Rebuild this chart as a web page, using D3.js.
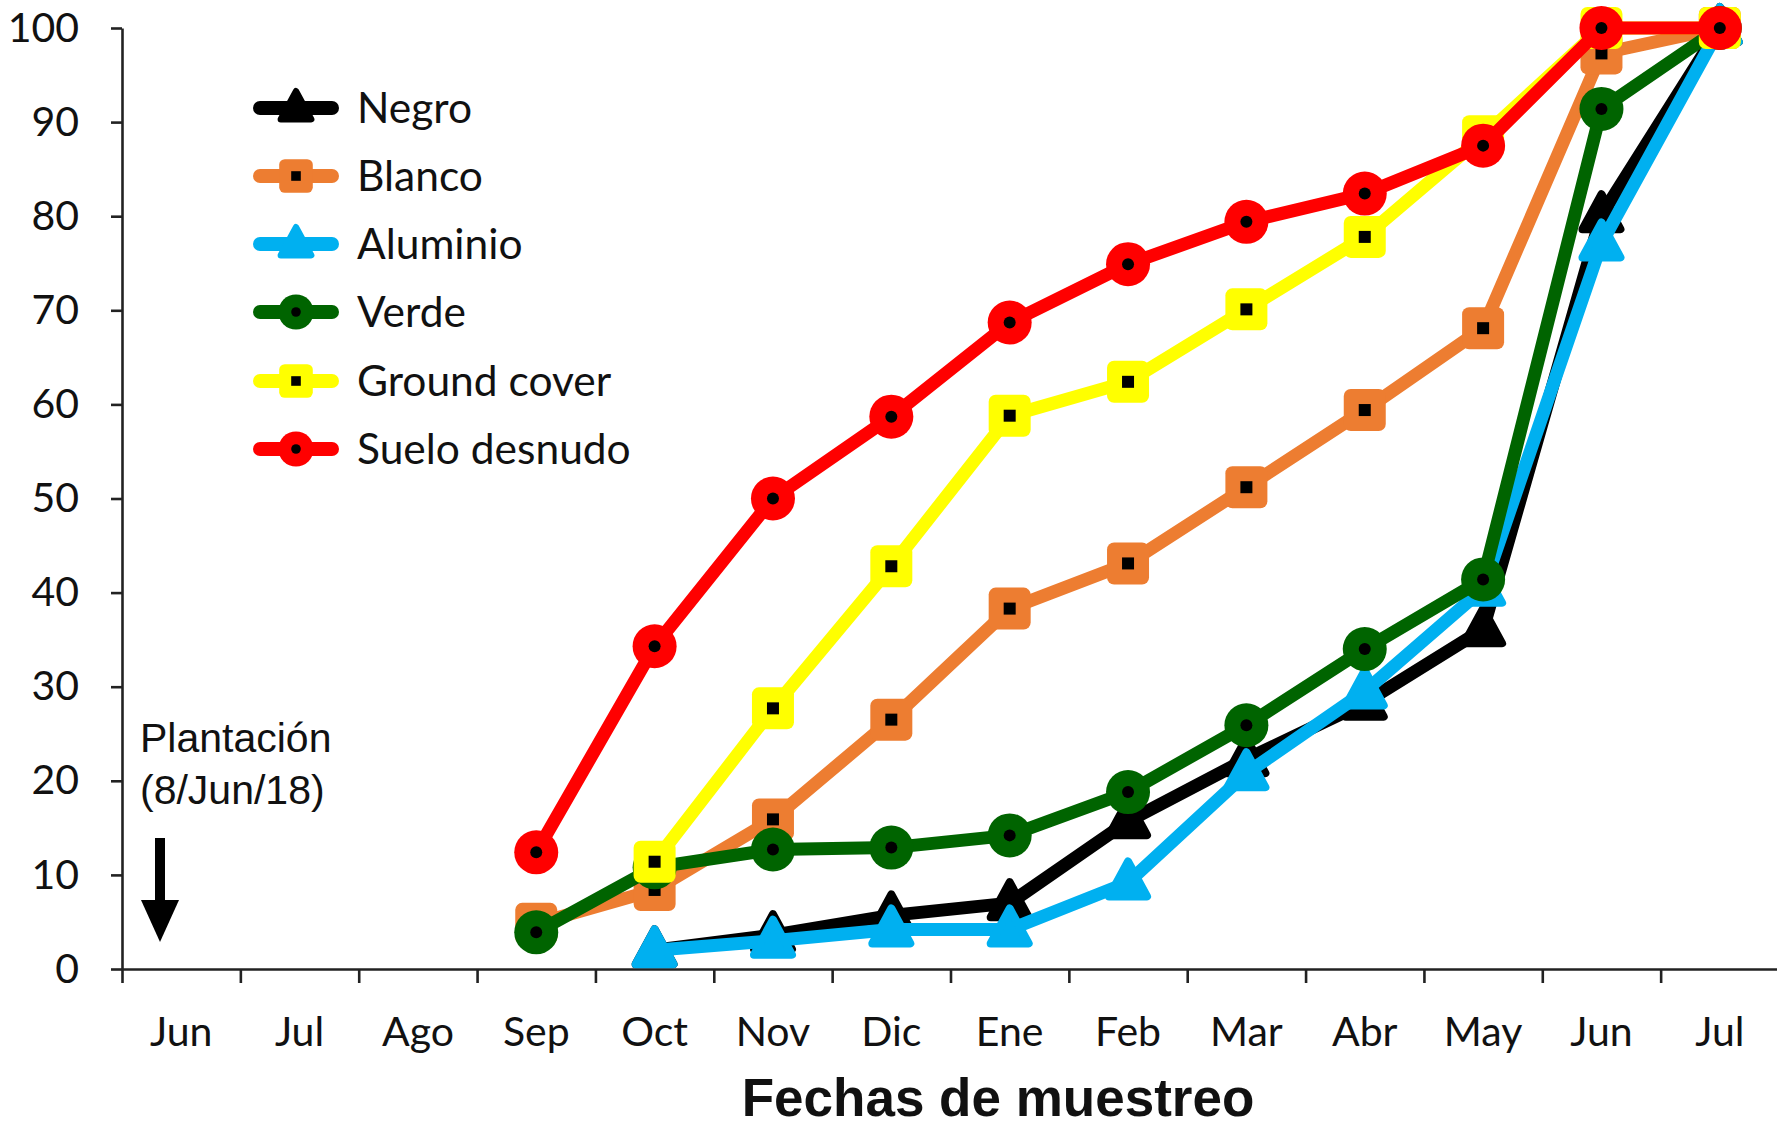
<!DOCTYPE html>
<html><head><meta charset="utf-8">
<script src="https://cdn.jsdelivr.net/npm/d3@7"></script>
<style>body{margin:0;background:#fff}svg{display:block}</style>
</head><body>
<svg id="chart" width="1777" height="1128"></svg>
<script>
// ---- data ----
const months = ["Jun","Jul","Ago","Sep","Oct","Nov","Dic","Ene","Feb","Mar","Abr","May","Jun","Jul"];
const yTicks = [0,10,20,30,40,50,60,70,80,90,100];
const seriesNames = ["Negro","Blanco","Aluminio","Verde","Ground cover","Suelo desnudo"];
const negro        = [null,null,null,null,2.0,3.6,5.7,7.0,15.7,22.3,28.3,36.1,80.1,100];
const blanco       = [null,null,null,4.8,8.4,15.9,26.5,38.3,43.1,51.2,59.4,68.1,97.3,100];
const aluminio     = [null,null,null,null,2.0,3.0,4.2,4.2,9.2,20.8,29.5,40.4,77.1,100];
const verde        = [null,null,null,3.9,10.8,12.7,12.9,14.2,18.8,25.9,34.0,41.4,91.4,100];
const groundCover  = [null,null,null,null,11.4,27.7,42.8,58.8,62.4,70.1,77.8,88.5,100,100];
const sueloDesnudo = [null,null,null,12.4,34.3,50.0,58.7,68.7,74.9,79.4,82.4,87.5,100,100];
const xTitle = "Fechas de muestreo";
const note = ["Plantación","(8/Jun/18)"];

const seriesValues = [negro, blanco, aluminio, verde, groundCover, sueloDesnudo];
const colors  = ["#000000","#ED7D31","#00B0F0","#006400","#FFFF00","#FF0000"];
const markers = ["triangle","square","triangle","circle","square","circle"];

// ---- layout ----
const svg = d3.select("#chart");
const X0 = 122, X1 = 1779, Y0 = 969, Y1 = 28;
const xb = d3.scaleLinear().domain([0, months.length]).range([X0, X1]);
const y = d3.scaleLinear().domain([0,100]).range([Y0, Y1]);
const xc = i => xb(i + 0.5);
const tickFont = "Lato, 'Open Sans', sans-serif";

// axes
const yAxis = svg.append("g").attr("transform",`translate(${X0},0)`)
  .call(d3.axisLeft(y).tickValues(yTicks).tickSize(11).tickSizeOuter(0).tickPadding(32));
yAxis.selectAll("text").style("font-family",tickFont).style("font-size","41px").attr("fill","#111");
const xAxis = svg.append("g").attr("transform",`translate(0,${Y0})`)
  .call(d3.axisBottom(xb).tickValues(d3.range(months.length+1)).tickSize(14).tickSizeOuter(0).tickFormat(""));
[yAxis,xAxis].forEach(g=>{
  g.selectAll("path,line").attr("stroke","#222").attr("stroke-width",2.6);
});
svg.append("g").selectAll("text").data(months).join("text")
  .attr("x",(d,i)=>xc(i)).attr("y",1046).attr("text-anchor","middle")
  .style("font-family",tickFont).style("font-size","41px").attr("fill","#111").text(d=>d);
svg.append("text").attr("x",998).attr("y",1116).attr("text-anchor","middle")
  .style("font-family","'Liberation Sans', Arial, sans-serif").style("font-weight","bold")
  .style("font-size","53px").attr("fill","#111").text(xTitle);

// annotation
svg.append("text").attr("x",140).attr("y",752)
  .style("font-family","'Liberation Sans', Arial, sans-serif").style("font-size","41px").attr("fill","#111")
  .selectAll("tspan").data(note).join("tspan").attr("x",140).attr("dy",(d,i)=>i?52:0).text(d=>d);
svg.append("rect").attr("x",155).attr("y",838).attr("width",10).attr("height",66).attr("fill","#000");
svg.append("path").attr("d","M141,900 L179,900 L160,942 Z").attr("fill","#000");

// marker drawing
function drawMarker(g, type, color, cx, cy, s) {
  if (type === "circle") {
    g.append("circle").attr("cx",cx).attr("cy",cy).attr("r",22*s).attr("fill",color);
    g.append("circle").attr("cx",cx).attr("cy",cy).attr("r",6*s).attr("fill","#000");
  } else if (type === "square") {
    const h = 21*s;
    g.append("rect").attr("x",cx-h).attr("y",cy-h).attr("width",2*h).attr("height",2*h)
      .attr("rx",7*s).attr("fill",color);
    g.append("rect").attr("x",cx-6*s).attr("y",cy-6*s).attr("width",12*s).attr("height",12*s).attr("fill","#000");
  } else {
    const w = 19*s, t = 21*s, b = 14*s;
    g.append("path").attr("d",`M${cx},${cy-t} L${cx+w},${cy+b} L${cx-w},${cy+b} Z`)
      .attr("fill",color).attr("stroke",color).attr("stroke-width",8*s).attr("stroke-linejoin","round");
  }
}

// series
const line = d3.line().defined(d=>d.v!=null).x(d=>xc(d.i)).y(d=>y(d.v));
seriesValues.forEach((vals,k)=>{
  const g = svg.append("g");
  const pts = vals.map((v,i)=>({i,v}));
  g.append("path").attr("d",line(pts)).attr("fill","none").attr("stroke",colors[k])
    .attr("stroke-width",13).attr("stroke-linejoin","round").attr("stroke-linecap","round");
  pts.filter(d=>d.v!=null).forEach(d=>drawMarker(g,markers[k],colors[k],xc(d.i),y(d.v),1));
});

// legend
const legY = [108,176,244,312,381,449];
seriesNames.forEach((name,k)=>{
  const g = svg.append("g");
  g.append("line").attr("x1",260).attr("x2",332).attr("y1",legY[k]).attr("y2",legY[k])
    .attr("stroke",colors[k]).attr("stroke-width",14).attr("stroke-linecap","round");
  drawMarker(g,markers[k],colors[k],296,legY[k],0.8);
  g.append("text").attr("x",357).attr("y",legY[k]).attr("dy","0.36em")
    .style("font-family",tickFont).style("font-size","42.5px").attr("fill","#111").text(name);
});
</script>
</body></html>
